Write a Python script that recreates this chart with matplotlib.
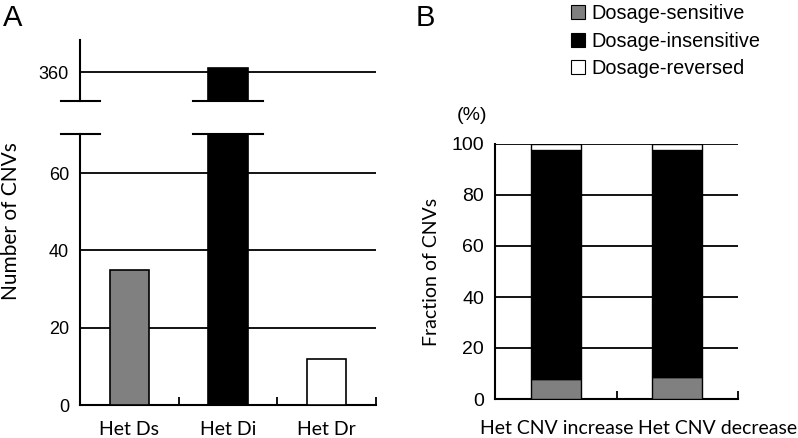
import matplotlib
matplotlib.use("Agg")
import matplotlib.pyplot as plt
from matplotlib.patches import Patch

# ---- data ----
a_categories = ["Het Ds", "Het Di", "Het Dr"]
a_counts = [35, 361, 12]
a_colors = ["#808080", "#000000", "#ffffff"]

b_categories = ["Het CNV increase", "Het CNV decrease"]
b_sensitive = [8.0, 8.6]
b_insensitive = [89.5, 88.9]
b_reversed = [2.5, 2.5]
legend_labels = ["Dosage-sensitive", "Dosage-insensitive", "Dosage-reversed"]
legend_colors = ["#808080", "#000000", "#ffffff"]

W, H = 798, 438
fig = plt.figure(figsize=(W / 100, H / 100), dpi=100)

def fx(px):
    return px / W

def fy(py):
    return 1 - py / H

numfont = dict(family="Liberation Sans")
lab_font = "Lato"

# ---- Panel A ----
axL = fig.add_axes([fx(80), fy(405), fx(376) - fx(80), fy(134) - fy(405)])
axU = fig.add_axes([fx(80), fy(101), fx(376) - fx(80), fy(40) - fy(101)])

x = list(range(len(a_categories)))
for ax in (axL, axU):
    ax.bar(x, a_counts, width=0.4, color=a_colors, edgecolor="black", linewidth=1.2, zorder=3)
    ax.set_xlim(-0.5, 2.5)
    for s in ("top", "right"):
        ax.spines[s].set_visible(False)
    ax.spines["left"].set_linewidth(1.5)
    ax.tick_params(axis="y", length=0, pad=8, labelsize=13)

axL.set_ylim(0, 70.1)
axL.set_yticks([0, 20, 40, 60])
axL.set_yticklabels(["0", "20", "40", "60"], **numfont)
for v in [20, 40, 60]:
    axL.axhline(v, color="black", lw=1.3, zorder=1)
axL.spines["bottom"].set_linewidth(1.5)
axL.set_xticks(x)
axL.set_xticklabels(a_categories, family=lab_font, fontsize=14)
axL.tick_params(axis="x", length=0, pad=11.5)
axL.set_xticks([0.5, 1.5, 2.5], minor=True)
axL.tick_params(axis="x", which="minor", direction="in", length=6, width=1.3)
axL.set_ylabel("Number of CNVs", family=lab_font, fontsize=15)
axL.yaxis.set_label_coords(-0.2, 0.68)

axU.set_ylim(352.5, 368.3)
axU.set_yticks([360])
axU.set_yticklabels(["360"], **numfont)
axU.axhline(360, color="black", lw=1.3, zorder=1)
axU.spines["bottom"].set_visible(False)
axU.set_xticks([])

# break marks
for py in (101, 134):
    fig.add_artist(plt.Line2D([fx(61), fx(100)], [fy(py), fy(py)], color="black", lw=1.5))
    fig.add_artist(plt.Line2D([fx(193), fx(263)], [fy(py), fy(py)], color="black", lw=1.5))

fig.text(fx(3), fy(18), "A", fontsize=21, family="Liberation Sans", va="center", ha="left")

# ---- Panel B ----
axB = fig.add_axes([fx(495), fy(399), fx(738) - fx(495), fy(144) - fy(399)])
xb = list(range(len(b_categories)))
bottom2 = [s + i for s, i in zip(b_sensitive, b_insensitive)]
axB.bar(xb, b_sensitive, width=0.41, color="#808080", edgecolor="black", lw=1.0, zorder=3)
axB.bar(xb, b_insensitive, bottom=b_sensitive, width=0.41, color="black", edgecolor="black", lw=1.0, zorder=3)
axB.bar(xb, b_reversed, bottom=bottom2, width=0.41, color="white", edgecolor="black", lw=1.0, zorder=3)
axB.set_xlim(-0.5, 1.5)
axB.set_ylim(0, 100)
for v in [20, 40, 60, 80, 100]:
    axB.axhline(v, color="black", lw=1.3, zorder=1)
for s in ("top", "right"):
    axB.spines[s].set_visible(False)
axB.spines["left"].set_linewidth(1.5)
axB.spines["bottom"].set_linewidth(1.5)
axB.set_yticks([0, 20, 40, 60, 80, 100])
axB.set_yticklabels(["0", "20", "40", "60", "80", "100"], **numfont)
axB.tick_params(axis="y", length=0, pad=8, labelsize=14)
axB.set_xticks([0.01, 1.335])
axB.set_xticklabels(b_categories, family=lab_font, fontsize=14)
axB.tick_params(axis="x", length=0, pad=15)
axB.set_xticks([0.5, 1.5], minor=True)
axB.tick_params(axis="x", which="minor", direction="in", length=6, width=1.3)
axB.set_ylabel("Fraction of CNVs", family=lab_font, fontsize=14)
axB.yaxis.set_label_coords(-0.225, 0.5)

fig.text(fx(457), fy(115), "(%)", fontsize=14, family="Liberation Sans", va="center", ha="left")
fig.text(fx(416), fy(18), "B", fontsize=21, family="Liberation Sans", va="center", ha="left")

handles = [Patch(facecolor=c, edgecolor="black", lw=0.8) for c in legend_colors]
fig.legend(handles, legend_labels, loc="upper left", bbox_to_anchor=(fx(569), fy(2)),
           frameon=False, prop=dict(family="Liberation Sans", size=14.3),
           handlelength=0.7, handleheight=0.7, handletextpad=0.35, labelspacing=0.43,
           borderaxespad=0, borderpad=0.1)

fig.savefig("out.png", dpi=100)
